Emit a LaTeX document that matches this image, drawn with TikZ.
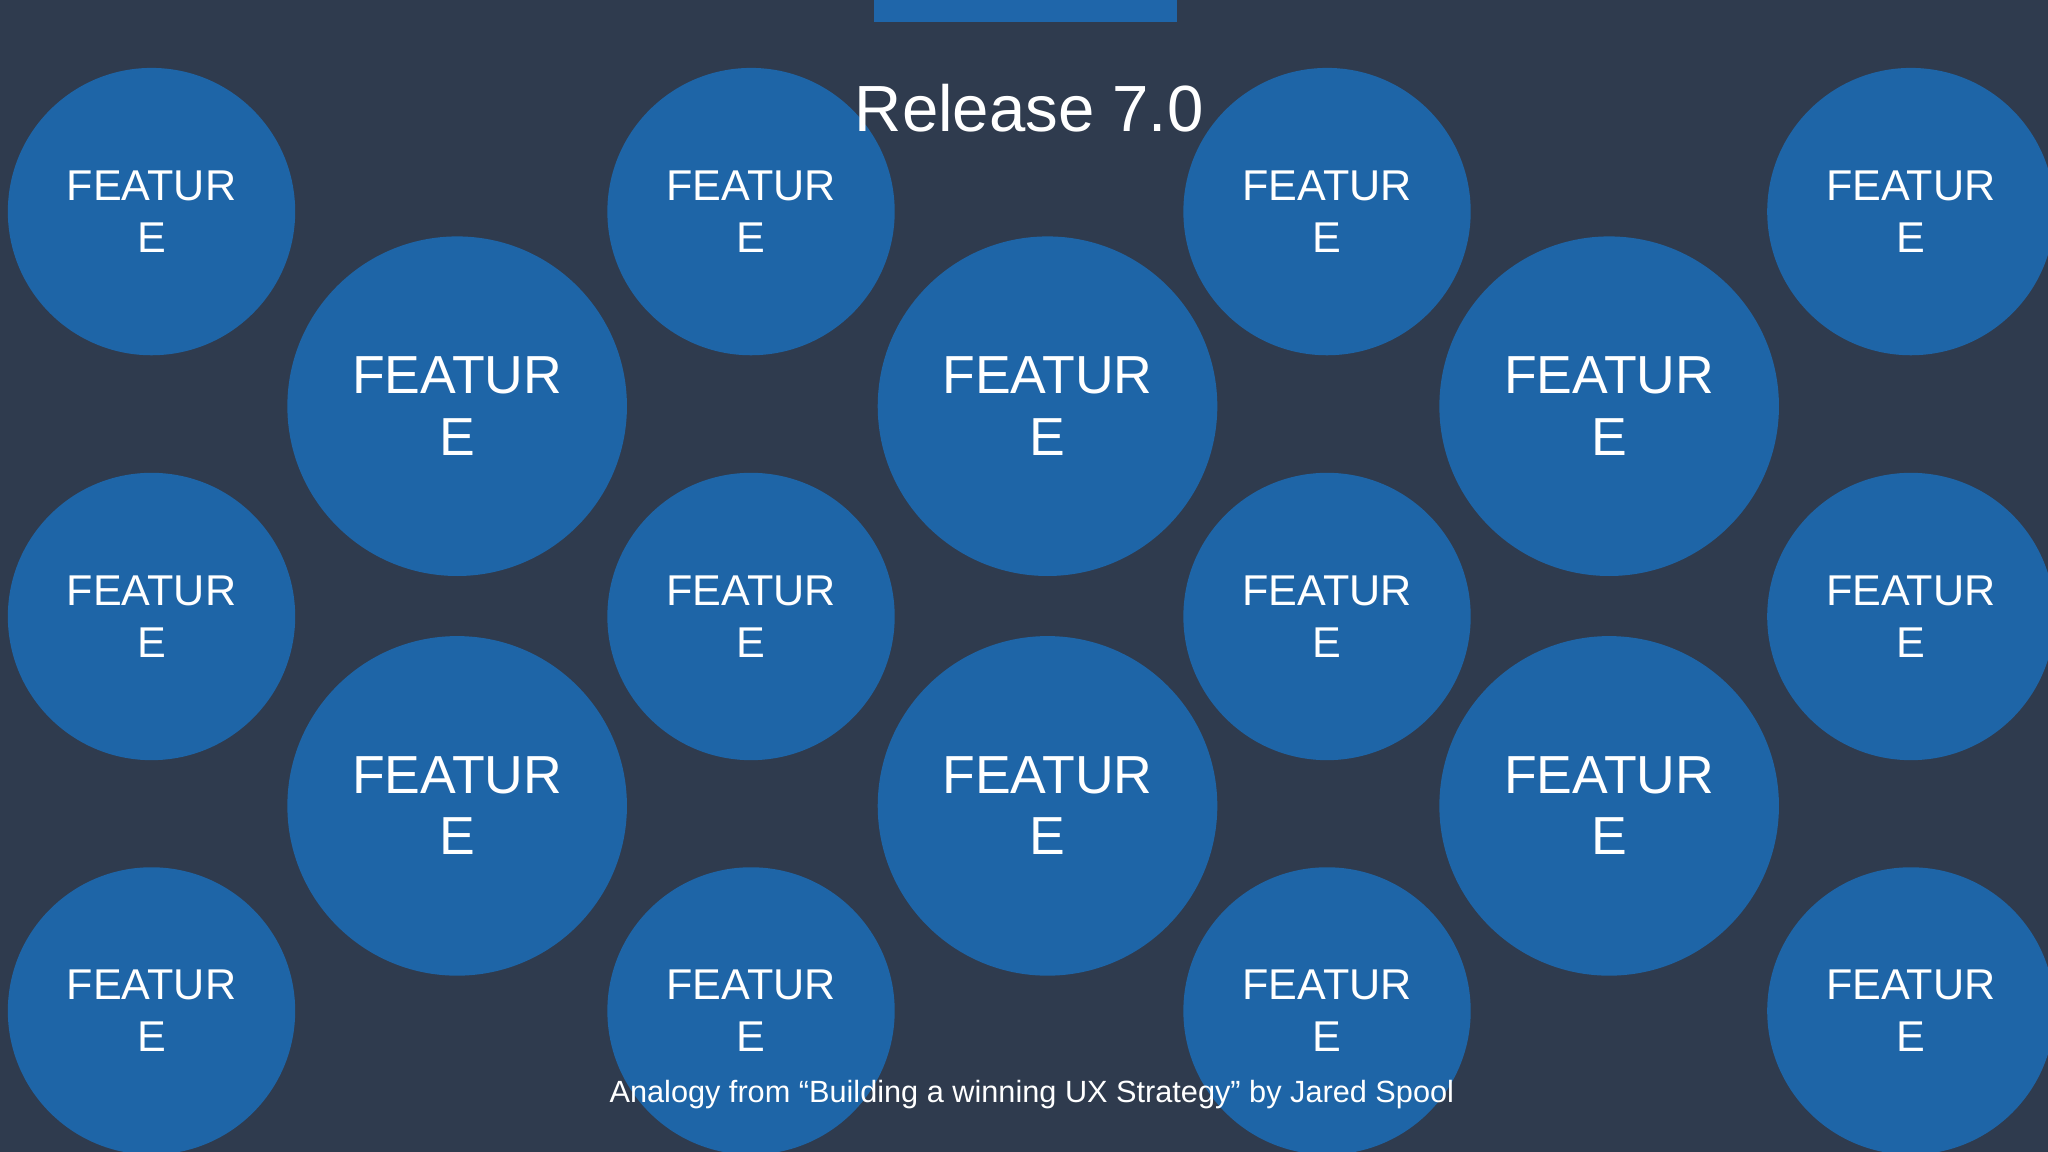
\documentclass[tikz,border=0pt]{standalone}
\usepackage{fontspec}
\setmainfont{Liberation Sans}
\definecolor{bg}{HTML}{2F3B4E}
\definecolor{fc}{HTML}{1E65A7}
\definecolor{bar}{HTML}{1F66AA}
\begin{document}
\begin{tikzpicture}[x=1pt,y=-1pt,
  small/.style={circle,fill=fc,minimum size=220pt,inner sep=0pt,text=white,align=center,font=\fontsize{33}{40}\selectfont},
  big/.style={circle,fill=fc,minimum size=260pt,inner sep=0pt,text=white,align=center,font=\fontsize{41}{47}\selectfont}]
\fill[bg] (0,0) rectangle (1568,882);
\useasboundingbox (0,0) rectangle (1568,882);
\fill[bar] (669,0) rectangle (901,17);
\foreach \x/\n in {116/a,575/b,1016/c,1463/d}{
  \foreach \y/\m in {162/1,472/2,774/3}{
    \node[small] (s\n\m) at (\x,\y) {FEATUR\\E};
  }
}
\foreach \x/\n in {350/a,802/b,1232/c}{
  \foreach \y/\m in {311/1,617/2}{
    \node[big] (b\n\m) at (\x,\y) {FEATUR\\E};
  }
}
\node[text=white,font=\fontsize{50}{60}\selectfont] (title) at (788,83) {Release 7.0};
\node[text=white,font=\fontsize{23.5}{28}\selectfont] (foot) at (790,838) {Analogy from “Building a winning UX Strategy” by Jared Spool};
\end{tikzpicture}
\end{document}
